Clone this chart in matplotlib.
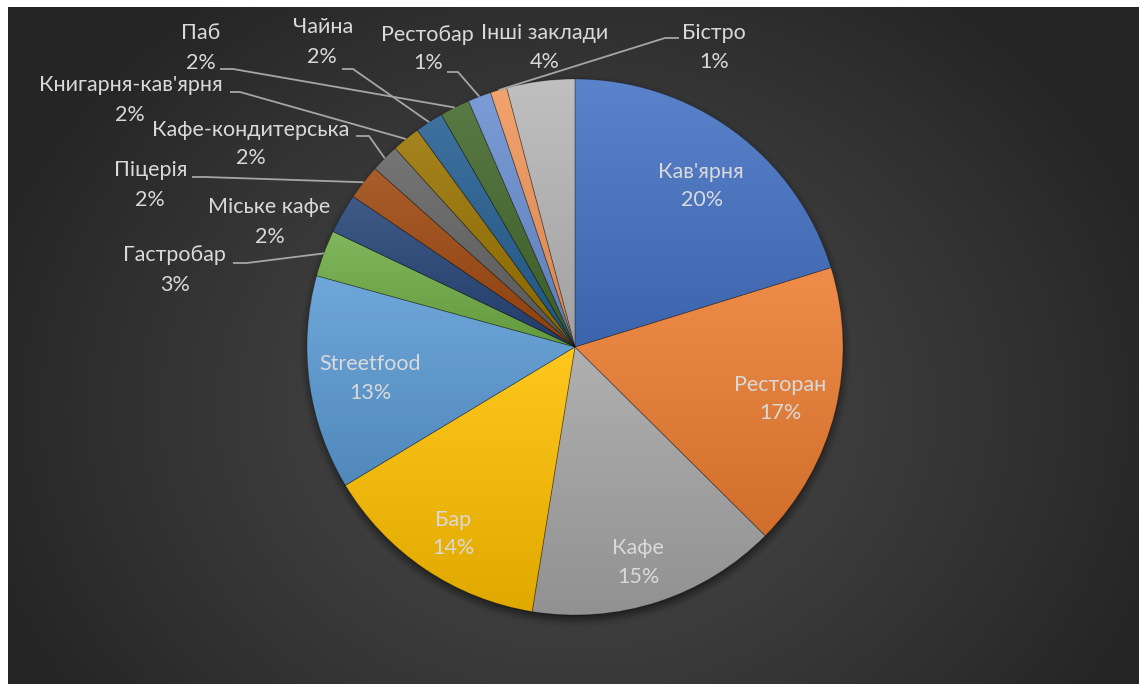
import numpy as np
import matplotlib.pyplot as plt
from matplotlib.colors import to_rgb

# Дані
categories = ["Кав'ярня", "Ресторан", "Кафе", "Бар", "Streetfood", "Гастробар",
              "Міське кафе", "Піцерія", "Кафе-кондитерська", "Книгарня-кав'ярня",
              "Чайна", "Паб", "Рестобар", "Бістро", "Інші заклади"]
values = [20.2, 17.2, 15.1, 13.8, 12.9, 2.8, 2.4, 2.1, 1.7, 1.7, 1.7, 1.8, 1.4, 1.0, 4.1]
colors = ["#4472C4", "#ED7D31", "#A5A5A5", "#FFC000", "#5B9BD5", "#70AD47",
          "#264478", "#9E480E", "#636363", "#997300", "#255E91", "#43682B",
          "#698ED0", "#F1975A", "#B7B7B7"]

W, H = 1141, 684
CX, CY, R = 575, H - 347, 268

plt.rcParams['font.family'] = ['Lato', 'Noto Sans', 'DejaVu Sans']

fig = plt.figure(figsize=(W / 100, H / 100), dpi=100, facecolor='white')
ax = fig.add_axes([0, 0, 1, 1])

# fond : dégradé radial sombre
yy, xx = np.mgrid[0:H - 7, 0:W - 10]
d = np.sqrt(((xx - 567) / 620.0) ** 2 + ((yy - 400) / 520.0) ** 2)
d = np.clip(d, 0, 1)
c_in, c_out = 0x4a / 255, 0x25 / 255
bg = c_in + (c_out - c_in) * d ** 1.2
ax.imshow(np.dstack([bg, bg, bg]), extent=(8, W - 2, 0, H - 7), origin='upper',
          aspect='auto', zorder=0, interpolation='bilinear')

# ombre du camembert
sy, sx = np.mgrid[0:H, 0:W]
ds = np.sqrt((sx - CX) ** 2 + (sy - (347 + 4)) ** 2)
a = np.clip((R + 9 - ds) / 14.0, 0, 1) ** 1.5 * 0.55
shadow = np.zeros((H, W, 4))
shadow[..., 3] = a
ax.imshow(shadow, extent=(0, W, 0, H), origin='upper', aspect='auto', zorder=1)

wedges, _ = ax.pie(values, colors=colors, startangle=90, counterclock=False,
                   center=(CX, CY), radius=R,
                   wedgeprops=dict(linewidth=0.6, edgecolor=(0, 0, 0, 0.25)))

# dégradé vertical dans chaque secteur
t = np.linspace(0, 1, 256)[:, None, None]
for w, c in zip(wedges, colors):
    rgb = np.array(to_rgb(c))
    top = rgb + (1 - rgb) * 0.12
    bot = rgb * 0.88
    grad = top * (1 - t) + bot * t
    ext = w.get_path().get_extents()
    im = ax.imshow(grad, extent=(ext.x0, ext.x1, ext.y0, ext.y1), origin='upper',
                   aspect='auto', zorder=2, interpolation='bilinear')
    im.set_clip_path(w)
    w.set_zorder(3)
    w.set_facecolor('none')

total = sum(values)
pcts = ["%.0f%%" % (v / total * 100) for v in values]

# positions des étiquettes (nom, pourcentage) en pixels de l'image
label_pos = {
    "Кав'ярня": ((701, 172), (702, 200)),
    "Ресторан": ((780, 385), (780, 413)),
    "Кафе": ((638, 548), (638, 577)),
    "Бар": ((453, 520), (453, 548)),
    "Streetfood": ((370, 364), (370, 393)),
    "Гастробар": ((174, 255), (175, 285)),
    "Міське кафе": ((269, 207), (270, 237)),
    "Піцерія": ((151, 170), (150, 200)),
    "Кафе-кондитерська": ((251, 130), (251, 158)),
    "Книгарня-кав'ярня": ((131, 85), (130, 115)),
    "Паб": ((201, 33), (201, 63)),
    "Чайна": ((323, 27), (322, 57)),
    "Рестобар": ((427, 35), (428, 63)),
    "Інші заклади": ((545, 33), (545, 62)),
    "Бістро": ((714, 33), (714, 62)),
}
# lignes de rappel : départ x, y, fin du petit segment horizontal
leaders = {
    "Гастробар": (233, 263, 247),
    "Піцерія": (192, 177, 205),
    "Кафе-кондитерська": (356, 136, 369),
    "Книгарня-кав'ярня": (230, 92, 240),
    "Паб": (220, 69, 233),
    "Чайна": (342, 69, 353),
    "Рестобар": (447, 72, 458),
    "Бістро": (679, 38, 665),
}

for cat, pct, w in zip(categories, pcts, wedges):
    (x1, y1), (x2, y2) = label_pos[cat]
    ax.text(x1, H - y1, cat, ha='center', va='center', fontsize=15.5, color='#d9d9d9', zorder=5)
    ax.text(x2, H - y2, pct, ha='center', va='center', fontsize=15.5, color='#d9d9d9', zorder=5)
    if cat in leaders:
        lx, ly, hx = leaders[cat]
        th = np.radians((w.theta1 + w.theta2) / 2)
        ex, ey = CX + R * np.cos(th), CY + R * np.sin(th)
        ax.plot([lx, hx, ex], [H - ly, H - ly, ey], color='#a6a6a6', lw=1.3, zorder=4,
                solid_capstyle='butt')

ax.set_xlim(0, W)
ax.set_ylim(0, H)
ax.set_aspect('auto')
ax.axis('off')

fig.savefig('out.png', dpi=100, facecolor='white')
